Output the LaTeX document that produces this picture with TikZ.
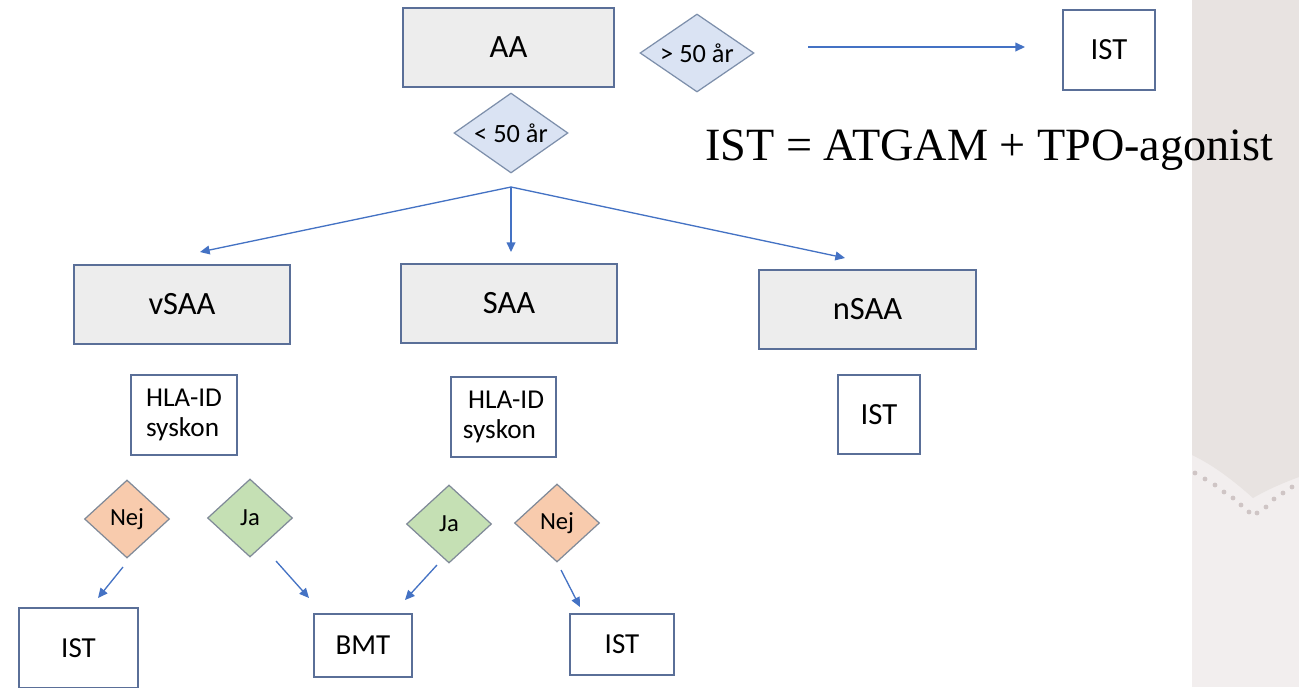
\documentclass[tikz,border=0pt]{standalone}
\usepackage{fontspec}
\setsansfont{Carlito}
\newfontfamily\serifen{Liberation Serif}
\usetikzlibrary{shapes.geometric,arrows.meta}

\definecolor{pilbla}{HTML}{4472C4}
\definecolor{ramkant}{HTML}{5A6F98}
\definecolor{gratt}{HTML}{EDEDED}
\definecolor{ljusbla}{HTML}{DAE3F3}
\definecolor{rutkant}{HTML}{7D8FAB}
\definecolor{laxrosa}{HTML}{F8CBAD}
\definecolor{gron}{HTML}{C5E0B4}
\definecolor{svarkant}{HTML}{808A98}
\definecolor{panel}{HTML}{E8E3E1}
\definecolor{panelljus}{HTML}{F2EEEE}
\definecolor{prick}{HTML}{CFC5C5}

\tikzset{
    ruta/.style={rectangle, draw=ramkant, line width=0.8pt, fill=white, inner sep=0pt},
    gra/.style={ruta, fill=gratt, font=\sffamily\fontsize{18.5}{22}\selectfont},
    villkor/.style={diamond, aspect=1.5, draw=rutkant, line width=0.7pt, fill=ljusbla, inner sep=0pt,
        minimum width=2.28cm, minimum height=1.56cm, font=\sffamily\fontsize{15}{18}\selectfont},
    svar/.style={villkor, draw=svarkant, minimum width=1.7cm, font=\sffamily\fontsize{14}{17}\selectfont},
    pil/.style={draw=pilbla, line width=0.75pt, -{Triangle[length=5.5pt,width=5pt]}}
}

\begin{document}
\begin{tikzpicture}[x=0.02cm, y=-0.02cm]
    \clip (0,0) rectangle (1299,687);
    \fill[white] (0,0) rectangle (1299,687);

    % Panel till höger
    \fill[panelljus] (1192,0) rectangle (1299,687);
    \fill[panel] (1192,0) -- (1299,0) -- (1299,477)
        .. controls (1280,484) and (1265,491) .. (1253,498)
        .. controls (1235,482) and (1215,466) .. (1192,455) -- cycle;
    \foreach \px/\py in {1195/473, 1205/479, 1215/485, 1224/492, 1233/498, 1241/505,
                         1249/512, 1257/513, 1266/507, 1274/499, 1283/493, 1292/487}
        \fill[prick] (\px,\py) circle (2.4);

    % Diagnos och ålder
    \node[gra, minimum width=4.22cm, minimum height=1.58cm] (aa) at (508.5,47.5) {AA};
    \node[villkor] (over) at (697,53) {> 50 år};
    \node[villkor, minimum height=1.6cm] (under) at (511,133) {< 50 år};
    \node[ruta, minimum width=1.84cm, minimum height=1.6cm, font=\sffamily\fontsize{17.5}{21}\selectfont]
        (istA) at (1109,50) {IST};
    \node[anchor=base west, inner sep=0pt, font=\serifen\fontsize{26.3}{30}\selectfont]
        (def) at (705,160) {IST = ATGAM + TPO-agonist};

    % Svårighetsgrad
    \node[gra, minimum width=4.32cm, minimum height=1.58cm] (vsaa) at (182,304.5) {vSAA};
    \node[gra, minimum width=4.32cm, minimum height=1.58cm] (saa) at (509,303.5) {SAA};
    \node[gra, minimum width=4.34cm, minimum height=1.58cm] (nsaa) at (867.5,309.5) {nSAA};

    % Syskon
    \begin{scope}[every node/.style={ruta, align=left, minimum height=1.6cm,
            font=\sffamily\fontsize{15.5}{17.5}\selectfont}]
        \node[minimum width=2.12cm] (hlaA) at (184,415) {HLA-ID\\syskon};
        \node[minimum width=2.1cm] (hlaB) at (503.5,417) {\hspace{3pt}HLA-ID\\syskon};
        \node[minimum width=1.64cm, minimum height=1.58cm, font=\sffamily\fontsize{17.5}{21}\selectfont]
            (istN) at (879,414.5) {IST};
    \end{scope}

    \node[svar, fill=laxrosa] (nejA) at (127,519) {Nej};
    \node[svar, fill=gron] (jaA) at (250,518) {Ja};
    \node[svar, fill=gron] (jaB) at (449,524) {Ja};
    \node[svar, fill=laxrosa] (nejB) at (557,523) {Nej};

    % Behandling
    \begin{scope}[every node/.style={ruta, font=\sffamily\fontsize{16.5}{20}\selectfont}]
        \node[minimum width=2.38cm, minimum height=1.6cm] (istV) at (78.5,648) {IST};
        \node[minimum width=1.96cm, minimum height=1.26cm] (bmt) at (363,645.5) {BMT};
        \node[minimum width=2.08cm, minimum height=1.22cm] (istH) at (622,644.5) {IST};
    \end{scope}

    % Pilarnas ändpunkter
    \coordinate (overS) at (808,47);
    \coordinate (overE) at (1025,47);
    \coordinate (delning) at (511,187);
    \coordinate (tillV) at (200,252);
    \coordinate (tillS) at (511,252);
    \coordinate (tillN) at (845,258);
    \coordinate (nejAs) at (123,567);
    \coordinate (nejAe) at (98,598);
    \coordinate (jaAs) at (276,561);
    \coordinate (jaAe) at (309,598);
    \coordinate (jaBs) at (437,565);
    \coordinate (jaBe) at (405,600);
    \coordinate (nejBs) at (561,570);
    \coordinate (nejBe) at (580,607);

    % Pilar
    \draw[pil] (overS) -- (overE);
    \draw[pil] (delning) -- (tillV);
    \draw[pil] (delning) -- (tillS);
    \draw[pil] (delning) -- (tillN);
    \draw[pil] (nejAs) -- (nejAe);
    \draw[pil] (jaAs) -- (jaAe);
    \draw[pil] (jaBs) -- (jaBe);
    \draw[pil] (nejBs) -- (nejBe);
\end{tikzpicture}
\end{document}
